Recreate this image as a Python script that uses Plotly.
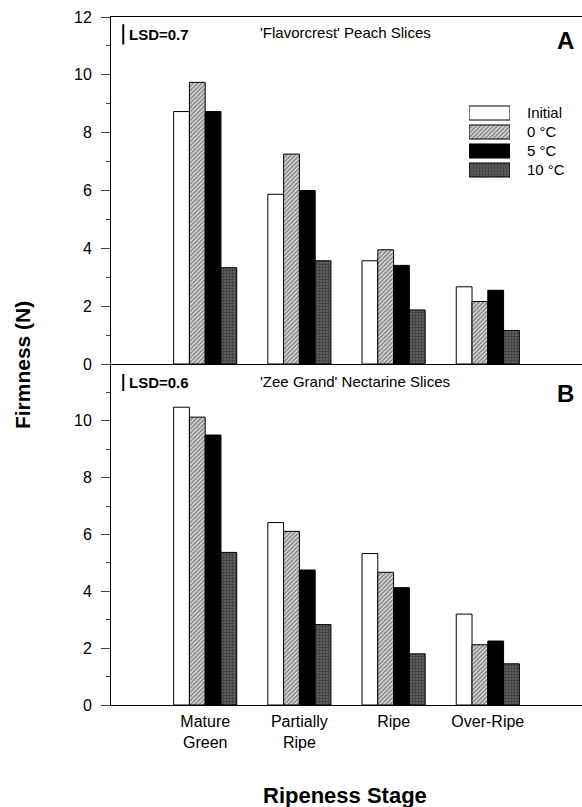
import plotly.graph_objects as go

categories = ["Mature<br>Green", "Partially<br>Ripe", "Ripe", "Over-Ripe"]
cat_pos = [1, 2, 3, 4]
series_names = ["Initial", "0 °C", "5 °C", "10 °C"]

peach_initial = [8.73, 5.87, 3.57, 2.67]
peach_0c = [9.74, 7.26, 3.95, 2.16]
peach_5c = [8.73, 6.00, 3.41, 2.55]
peach_10c = [3.33, 3.57, 1.87, 1.16]

nect_initial = [10.48, 6.42, 5.33, 3.20]
nect_0c = [10.13, 6.11, 4.67, 2.12]
nect_5c = [9.50, 4.75, 4.13, 2.25]
nect_10c = [5.37, 2.83, 1.80, 1.45]

lsd_values = [0.7, 0.6]
panel_titles = ["'Flavorcrest' Peach Slices", "'Zee Grand' Nectarine Slices"]
panel_letters = ["A", "B"]

styles = [
    dict(color="white", line=dict(color="black", width=1)),
    dict(color="#d0d0d0", line=dict(color="black", width=1),
         pattern=dict(shape="/", fgcolor="#222", bgcolor="#d8d8d8", size=3, solidity=0.45)),
    dict(color="black", line=dict(color="black", width=1)),
    dict(color="#555", line=dict(color="black", width=1),
         pattern=dict(shape=".", fgcolor="#111", bgcolor="#666", size=3, solidity=0.5)),
]

FONT = "Liberation Sans, Arial, sans-serif"
fig = go.Figure()

peach = [peach_initial, peach_0c, peach_5c, peach_10c]
nect = [nect_initial, nect_0c, nect_5c, nect_10c]

for i, (name, vals) in enumerate(zip(series_names, peach)):
    fig.add_trace(go.Bar(x=cat_pos, y=vals, name=name, marker=styles[i],
                         xaxis="x", yaxis="y2", showlegend=False))
for i, (name, vals) in enumerate(zip(series_names, nect)):
    fig.add_trace(go.Bar(x=cat_pos, y=vals, name=name, marker=styles[i],
                         xaxis="x2", yaxis="y", showlegend=False))

# legend key: one wide swatch per series on its own small axis
for i, name in enumerate(series_names):
    fig.add_trace(go.Bar(x=[1], y=[name], orientation="h", marker=styles[i],
                         width=0.74, offset=-0.37, xaxis="x3", yaxis="y3",
                         showlegend=False, hoverinfo="skip"))

split = 341 / 688

axis_common = dict(showline=True, linecolor="black", linewidth=1, zeroline=False,
                   showgrid=False)
ytick_font = dict(size=16, family=FONT)
fig.update_layout(
    width=582, height=807,
    margin=dict(l=111, r=0, t=17, b=102),
    paper_bgcolor="white", plot_bgcolor="white",
    font=dict(family=FONT, color="black", size=14),
    barmode="group", bargap=0.33, bargroupgap=0,
    showlegend=False,
    xaxis=dict(domain=[0, 1], range=[0, 5], anchor="y2", showticklabels=False,
               ticks="", mirror=True, **axis_common),
    xaxis2=dict(domain=[0, 1], range=[0, 5], anchor="y", tickvals=cat_pos,
                ticktext=categories, ticks="", mirror=False, ticklabelstandoff=2,
                tickfont=dict(size=16, family=FONT), **axis_common),
    yaxis2=dict(domain=[split, 1], range=[0, 12], anchor="x",
                tickvals=[0, 2, 4, 6, 8, 10, 12], ticks="outside", ticklen=9,
                ticklabelstandoff=6, tickfont=ytick_font,
                minor=dict(tickvals=[1, 3, 5, 7, 9, 11], ticks="outside", ticklen=4),
                **axis_common),
    yaxis=dict(domain=[0, split], range=[0, 12], anchor="x2",
               tickvals=[0, 2, 4, 6, 8, 10], ticks="outside", ticklen=9,
               ticklabelstandoff=6, tickfont=ytick_font,
               minor=dict(tickvals=[1, 3, 5, 7, 9, 11], ticks="outside", ticklen=4),
               **axis_common),
    xaxis3=dict(domain=[(469 - 111) / 471, (510 - 111) / 471], range=[0, 1],
                anchor="y3", visible=False, fixedrange=True),
    yaxis3=dict(domain=[(705 - 179.5) / 688, (705 - 103.5) / 688], anchor="x3",
                type="category", autorange="reversed", side="right",
                showline=False, showgrid=False, zeroline=False, ticks="",
                ticklabelstandoff=16, tickfont=dict(size=15, family=FONT),
                fixedrange=True),
)

# LSD bars, titles, panel letters
letter_drop = [0.55, 0.7]
for k, (yref, xref) in enumerate([("y2", "x"), ("y", "x2")]):
    top = 11.75 if k == 0 else 11.65
    mid = top - lsd_values[k] / 2
    fig.add_shape(type="line", xref=xref, yref=yref, x0=0.13, x1=0.13,
                  y0=top, y1=top - lsd_values[k], line=dict(color="black", width=2))
    fig.add_annotation(xref=xref, yref=yref, x=0.17, y=mid,
                       text=f"<b>LSD={lsd_values[k]}</b>", showarrow=False,
                       xanchor="left", yanchor="middle", font=dict(size=15, family=FONT))
    fig.add_annotation(xref=xref, yref=yref, x=1.565, y=mid + 0.05,
                       text=panel_titles[k], showarrow=False,
                       xanchor="left", yanchor="middle", font=dict(size=15, family=FONT))
    fig.add_annotation(xref=xref, yref=yref, x=4.83, y=top - letter_drop[k],
                       text=f"<b>{panel_letters[k]}</b>", showarrow=False,
                       xanchor="center", yanchor="middle",
                       font=dict(size=24, family=FONT))

fig.add_annotation(xref="paper", yref="paper", x=-0.189, y=0.494,
                   text="<b>Firmness (N)</b>", textangle=-90, showarrow=False,
                   xanchor="center", yanchor="middle",
                   font=dict(size=21, family=FONT))
fig.add_annotation(xref="paper", yref="paper", x=0.497, y=-0.131,
                   text="<b>Ripeness Stage</b>", showarrow=False,
                   xanchor="center", yanchor="middle",
                   font=dict(size=22, family=FONT))

fig.write_html("out.html")
